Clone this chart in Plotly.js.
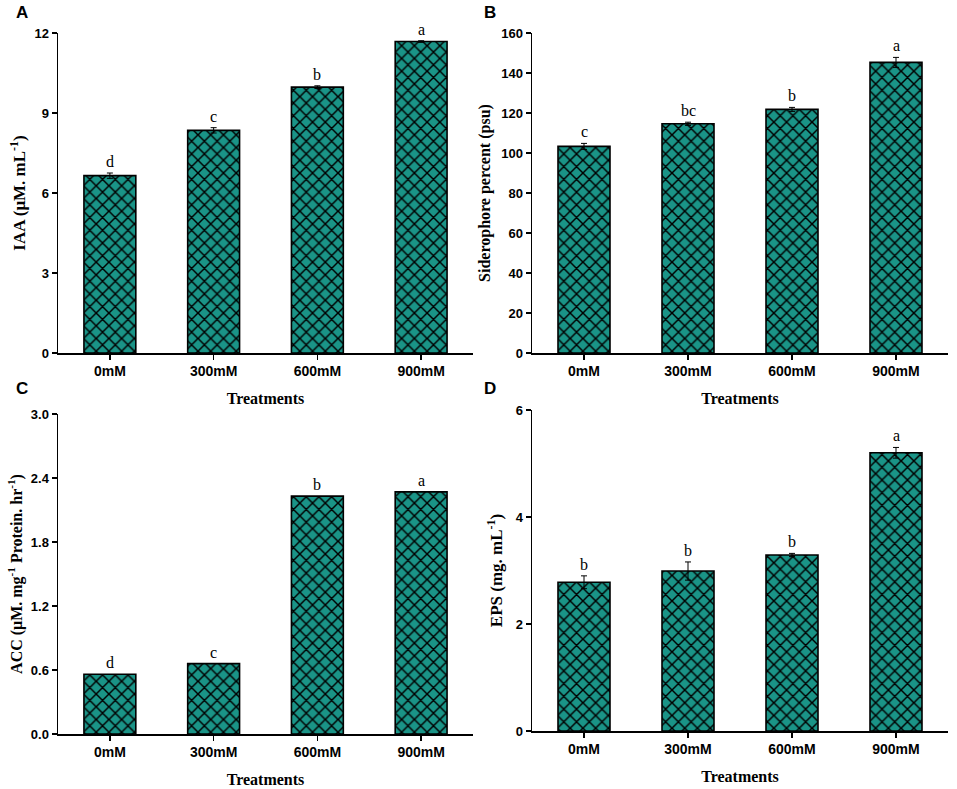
<!DOCTYPE html>
<html>
<head>
<meta charset="utf-8">
<script src="https://cdn.plot.ly/plotly-3.0.1.min.js"></script>
<style>html,body{margin:0;padding:0;background:#fff;}#chart{width:957px;height:789px;}</style>
</head>
<body>
<div id="chart"></div>
<script>
const categories = ['0mM', '300mM', '600mM', '900mM'];

const iaaValues = [6.65, 8.35, 9.97, 11.68];
const iaaErrors = [0.10, 0.10, 0.05, 0.03];
const iaaLetters = ['d', 'c', 'b', 'a'];

const sidValues = [103.3, 114.6, 121.8, 145.3];
const sidErrors = [1.5, 0.8, 1.0, 2.5];
const sidLetters = ['c', 'bc', 'b', 'a'];

const accValues = [0.56, 0.66, 2.23, 2.27];
const accErrors = [0, 0, 0, 0];
const accLetters = ['d', 'c', 'b', 'a'];

const epsValues = [2.78, 2.99, 3.29, 5.20];
const epsErrors = [0.12, 0.17, 0.03, 0.10];
const epsLetters = ['b', 'b', 'b', 'a'];

const W = 957, H = 789;
const teal = '#1a9487';
const serif = 'Liberation Serif, Times New Roman, serif';
const sans = 'Liberation Sans, Arial, sans-serif';

function px(a, b) { return [a / W, b / W]; }
function py(top, bottom) { return [1 - bottom / H, 1 - top / H]; }

const panels = [
  {vals: iaaValues, errs: iaaErrors, letters: iaaLetters, xa: 'x', ya: 'y', xd: px(58, 473), yd: py(33, 353),
   range: [0, 12], dtick: 3, tickformat: 'd', ytitle: '<b>IAA (μM. mL<sup>-1</sup>)</b>', ytsize: 17, ystand: 4, xstand: 14, showErr: true, tag: 'A', tagx: 22, tagy: 13},
  {vals: sidValues, errs: sidErrors, letters: sidLetters, xa: 'x2', ya: 'y2', xd: px(532, 948), yd: py(33, 353),
   range: [0, 160], dtick: 20, tickformat: 'd', ytitle: '<b>Siderophore percent (psu)</b>', ytsize: 16, ystand: 6, xstand: 14, showErr: true, tag: 'B', tagx: 490, tagy: 13},
  {vals: accValues, errs: accErrors, letters: accLetters, xa: 'x3', ya: 'y3', xd: px(58, 473), yd: py(414, 734),
   range: [0, 3], dtick: 0.6, tickformat: '.1f', ytitle: '<b>ACC (μM. mg<sup>-1</sup> Protein. hr<sup>-1</sup>)</b>', ytsize: 16, ystand: 4, xstand: 14, showErr: false, tag: 'C', tagx: 22, tagy: 389},
  {vals: epsValues, errs: epsErrors, letters: epsLetters, xa: 'x4', ya: 'y4', xd: px(532, 948), yd: py(410, 731),
   range: [0, 6], dtick: 2, tickformat: 'd', ytitle: '<b>EPS (mg. mL<sup>-1</sup>)</b>', ytsize: 17, ystand: 8, xstand: 14, showErr: true, tag: 'D', tagx: 490, tagy: 389}
];

const data = [];
const annotations = [];
const layout = {
  width: W, height: H,
  margin: {l: 0, r: 0, t: 0, b: 0},
  paper_bgcolor: '#ffffff', plot_bgcolor: 'rgba(0,0,0,0)',
  showlegend: false,
  bargap: 0.5,
  annotations: annotations
};

panels.forEach((p, i) => {
  data.push({
    type: 'bar', x: categories, y: p.vals, xaxis: p.xa, yaxis: p.ya,
    width: 0.5,
    marker: {
      color: teal,
      line: {color: '#000', width: 1.6},
      pattern: {shape: 'x', fgcolor: '#000000', bgcolor: teal, fillmode: 'replace', size: 9, solidity: 0.3}
    },
    error_y: {type: 'data', array: p.errs, visible: p.showErr, color: '#000', thickness: 1, width: 3},
    hoverinfo: 'skip'
  });
  const sfx = i === 0 ? '' : String(i + 1);
  layout['xaxis' + sfx] = {
    domain: p.xd, anchor: p.ya, type: 'category', range: [-0.5, 3.5],
    showline: true, linecolor: '#000', linewidth: 1.5,
    ticks: 'outside', ticklen: 5, tickwidth: 1.5, tickcolor: '#000',
    showgrid: false, zeroline: false, fixedrange: true,
    tickfont: {family: sans, size: 14, color: '#000', weight: 'bold'},
    title: {text: '<b>Treatments</b>', font: {family: serif, size: 16, color: '#000'}, standoff: p.xstand}
  };
  layout['yaxis' + sfx] = {
    domain: p.yd, anchor: p.xa, range: p.range, dtick: p.dtick, tick0: 0, tickformat: p.tickformat,
    showline: true, linecolor: '#000', linewidth: 1.5,
    ticks: 'outside', ticklen: 5, tickwidth: 1.5, tickcolor: '#000',
    showgrid: false, zeroline: false, fixedrange: true,
    tickfont: {family: sans, size: 13, color: '#000', weight: 'bold'},
    title: {text: p.ytitle, font: {family: serif, size: p.ytsize, color: '#000'}, standoff: p.ystand}
  };
  categories.forEach((c, j) => {
    annotations.push({
      x: c, y: p.vals[j] + (p.showErr ? p.errs[j] : 0), xref: p.xa, yref: p.ya,
      text: p.letters[j], showarrow: false, yanchor: 'bottom', yshift: 1,
      font: {family: serif, size: 16, color: '#000'}
    });
  });
  annotations.push({
    x: p.tagx / W, y: 1 - p.tagy / H, xref: 'paper', yref: 'paper', xanchor: 'center', yanchor: 'middle',
    text: '<b>' + p.tag + '</b>', showarrow: false, font: {family: sans, size: 17, color: '#000'}
  });
});

Plotly.newPlot('chart', data, layout, {displayModeBar: false, staticPlot: true});
</script>
</body>
</html>
